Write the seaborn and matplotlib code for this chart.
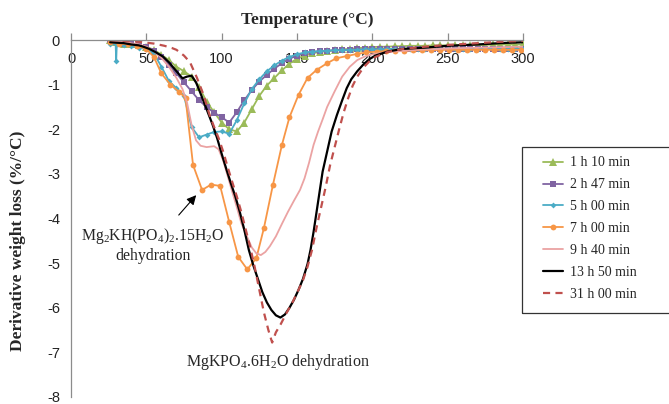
import matplotlib
matplotlib.use("Agg")
import matplotlib.pyplot as plt
import seaborn as sns
from matplotlib.patches import Rectangle

# ---------------- data ----------------
labels = ["1 h 10 min", "2 h 47 min", "5 h 00 min", "7 h 00 min",
          "9 h 40 min", "13 h 50 min", "31 h 00 min"]

t_5 = [26, 30, 35, 40, 45, 50, 55, 60, 65, 70, 75, 80, 85, 90, 95, 100, 105, 110,
       115, 120, 125, 130, 135, 140, 145, 150, 155, 160, 165, 170, 175, 180, 185,
       190, 195, 200, 205, 210, 215, 220, 225, 230, 235, 240, 245, 250, 255, 260,
       265, 270, 275, 280, 285, 290, 295, 300]

y_1h10 = [0.0, -0.05, -0.08, -0.1, -0.12, -0.15, -0.22, -0.33, -0.45, -0.6, -0.7,
          -0.82, -1.05, -1.38, -1.62, -1.85, -2.0, -2.05, -1.85, -1.55, -1.25,
          -1.02, -0.85, -0.68, -0.53, -0.42, -0.35, -0.3, -0.27, -0.25, -0.23,
          -0.21, -0.2, -0.18, -0.17, -0.16, -0.15, -0.15, -0.14, -0.14, -0.13,
          -0.13, -0.13, -0.12, -0.12, -0.12, -0.12, -0.11, -0.11, -0.11, -0.11,
          -0.1, -0.1, -0.1, -0.1, -0.1]

y_2h47 = [0.0, -0.05, -0.08, -0.1, -0.12, -0.16, -0.25, -0.38, -0.55, -0.75, -0.95,
          -1.15, -1.35, -1.5, -1.63, -1.73, -1.85, -1.62, -1.35, -1.12, -0.93,
          -0.78, -0.64, -0.52, -0.42, -0.35, -0.3, -0.27, -0.25, -0.24, -0.23,
          -0.22, -0.22, -0.21, -0.21, -0.2, -0.2, -0.2, -0.2, -0.2, -0.2, -0.2,
          -0.2, -0.2, -0.2, -0.2, -0.2, -0.2, -0.2, -0.2, -0.2, -0.2, -0.2,
          -0.2, -0.2, -0.2]

t_5h00 = [26, 29.6, 30, 30.4, 35, 40, 45, 50, 55, 60, 65, 70, 75, 80, 85, 90, 95,
          100, 105, 110, 115, 120, 125, 130, 135, 140, 145, 150, 155, 160, 165,
          170, 175, 180, 185, 190, 195, 200, 205, 210, 215, 220, 225, 230, 235,
          240, 245, 250, 255, 260, 265, 270, 275, 280, 285, 290, 295, 300]
y_5h00 = [-0.1, -0.08, -0.46, -0.1, -0.12, -0.14, -0.17, -0.2, -0.3, -0.6, -0.92,
          -1.08, -1.25, -1.95, -2.18, -2.12, -2.06, -2.05, -2.1, -1.8, -1.42, -1.1,
          -0.88, -0.7, -0.57, -0.46, -0.38, -0.32, -0.28, -0.26, -0.25, -0.24,
          -0.23, -0.23, -0.22, -0.22, -0.21, -0.21, -0.21, -0.2, -0.2, -0.2, -0.2,
          -0.2, -0.2, -0.2, -0.2, -0.2, -0.2, -0.2, -0.2, -0.2, -0.2, -0.2,
          -0.2, -0.2, -0.2, -0.2]

t_7h00 = [26, 32, 38, 44, 50, 55, 60, 66, 72, 76, 81, 87, 93, 99, 105, 111, 117,
          123, 128, 134, 140, 145, 151, 157, 163, 170, 176, 183, 190, 196, 203,
          209, 215, 221, 227, 233, 239, 245, 251, 257, 263, 269, 275, 281, 287,
          293, 299]
y_7h00 = [-0.05, -0.08, -0.1, -0.13, -0.2, -0.38, -0.75, -1.0, -1.17, -1.3, -2.8,
          -3.36, -3.24, -3.27, -4.08, -4.86, -5.14, -4.89, -4.22, -3.25, -2.35,
          -1.73, -1.23, -0.85, -0.67, -0.52, -0.41, -0.36, -0.31, -0.28, -0.26,
          -0.25, -0.24, -0.24, -0.23, -0.23, -0.23, -0.22, -0.22, -0.22, -0.22,
          -0.22, -0.22, -0.22, -0.22, -0.22, -0.22]

t_9h40 = [26, 35, 45, 50, 55, 60, 65, 70, 74, 77, 80, 83, 86, 90, 95, 98, 101,
          104, 107, 110, 113, 117, 120, 123, 126, 129, 132, 136, 140, 144, 148,
          152, 155, 158, 161, 164, 167, 170, 175, 180, 185, 190, 195, 200, 210,
          230, 260, 300]
y_9h40 = [0.0, -0.05, -0.1, -0.15, -0.25, -0.4, -0.6, -0.85, -1.1, -1.4, -1.9,
          -2.25, -2.37, -2.4, -2.38, -2.45, -2.7, -3.05, -3.4, -3.74, -4.1, -4.42,
          -4.65, -4.78, -4.82, -4.75, -4.62, -4.4, -4.12, -3.85, -3.6, -3.36,
          -3.1, -2.75, -2.35, -2.05, -1.78, -1.5, -1.15, -0.82, -0.6, -0.45,
          -0.37, -0.32, -0.27, -0.22, -0.18, -0.15]

t_13h50 = [26, 30, 35, 40, 45, 48, 52, 56, 61, 65, 70, 74, 77, 80, 83, 86, 90, 94,
           97, 100, 103, 106, 109, 112, 115, 118, 121, 124, 127, 130, 133, 136,
           139, 142, 145, 148, 151, 154, 157, 159, 161, 163, 165, 167, 170, 173,
           176.5, 180, 183, 186, 190, 194, 198, 202, 210, 220, 235, 250, 270, 285,
           300]
y_13h50 = [-0.05, -0.06, -0.07, -0.1, -0.12, -0.15, -0.2, -0.27, -0.37, -0.5, -0.7,
           -0.86, -0.82, -0.8, -0.95, -1.2, -1.55, -1.9, -2.2, -2.55, -2.88, -3.2,
           -3.5, -3.85, -4.25, -4.7, -5.05, -5.35, -5.65, -5.88, -6.05, -6.17,
           -6.22, -6.15, -6.0, -5.82, -5.6, -5.35, -5.02, -4.7, -4.3, -3.85, -3.4,
           -2.95, -2.5, -2.05, -1.68, -1.35, -1.08, -0.88, -0.7, -0.55, -0.43,
           -0.35, -0.26, -0.2, -0.17, -0.13, -0.1, -0.07, -0.05]

t_31h00 = [26, 35, 45, 55, 62, 67, 70, 75, 79, 83.5, 88, 92, 95, 98, 101, 104, 107,
           110, 113, 116, 119, 122, 125, 128, 131, 133.5, 136, 139, 143, 147, 151,
           154, 157, 160, 163, 166, 169, 172, 175, 178, 181, 184, 187, 190, 194,
           198, 202, 210, 220, 235, 250, 270, 285, 300]
y_31h00 = [0.0, -0.02, -0.04, -0.08, -0.13, -0.18, -0.22, -0.35, -0.5, -0.84, -1.23,
           -1.68, -1.95, -2.2, -2.5, -2.85, -3.18, -3.5, -3.85, -4.25, -4.65, -5.1,
           -5.6, -6.1, -6.5, -6.78, -6.55, -6.38, -6.12, -5.88, -5.6, -5.38, -5.08,
           -4.7, -4.2, -3.75, -3.3, -2.8, -2.4, -2.0, -1.62, -1.3, -1.02, -0.82,
           -0.62, -0.48, -0.38, -0.27, -0.2, -0.15, -0.11, -0.07, -0.04, -0.02]

x_ticks = [0, 50, 100, 150, 200, 250, 300]
y_ticks = [0, -1, -2, -3, -4, -5, -6, -7, -8]

# ---------------- style ----------------
sns.set_style("white")
plt.rcParams["font.family"] = ["Liberation Serif", "DejaVu Serif"]
plt.rcParams["mathtext.default"] = "regular"

fig = plt.figure(figsize=(6.69, 4.04), dpi=100)
ax = fig.add_axes([71 / 669, 7 / 404, 452 / 669, 357 / 404])

series = [
    (t_5, y_1h10, dict(color="#9BBB59", marker="^", markersize=6, linewidth=1.3)),
    (t_5, y_2h47, dict(color="#8064A2", marker="s", markersize=4.4, linewidth=1.3)),
    (t_5h00, y_5h00, dict(color="#4BACC6", marker="D", markersize=3.0, linewidth=1.3)),
    (t_7h00, y_7h00, dict(color="#F79646", marker="o", markersize=4.2, linewidth=1.3)),
    (t_9h40, y_9h40, dict(color="#EBA3A3", linewidth=1.3)),
    (t_13h50, y_13h50, dict(color="black", linewidth=1.6)),
    (t_31h00, y_31h00, dict(color="#C0504D", linewidth=1.6, linestyle=(0, (3.2, 2.4)))),
]
for (tx, ty, kw), lab in zip(series, labels):
    sns.lineplot(x=tx, y=ty, ax=ax, label=lab, markeredgewidth=0, sort=False, **kw)

ax.set_xlim(0, 300)
ax.set_ylim(-8, 0)
ax.set_xlabel("")
ax.set_ylabel("")
for s in ["right", "bottom"]:
    ax.spines[s].set_visible(False)
for s in ["top", "left"]:
    ax.spines[s].set_color("#8C8C8C")
    ax.spines[s].set_linewidth(0.9)

ax.xaxis.set_ticks_position("top")
ax.set_xticks(x_ticks)
ax.set_xticklabels([str(v) for v in x_ticks])
ax.set_yticks(y_ticks)
ax.set_yticklabels([str(v) for v in y_ticks])
ax.tick_params(axis="x", direction="out", length=5, width=0.9, color="#8C8C8C", pad=-24,
               labelfontfamily="Liberation Sans", labelsize=10.5, labelcolor="#222222")
ax.tick_params(axis="y", direction="out", length=5, width=0.9, color="#8C8C8C", pad=3,
               labelfontfamily="Liberation Sans", labelsize=10.5, labelcolor="#222222")

fig.text(307 / 669, 1 - 20 / 404, "Temperature (°C)", ha="center", va="center",
         fontsize=12.5, fontweight="bold")
fig.text(18 / 669, 1 - 241 / 404, "Derivative weight loss (%/°C)", rotation=90,
         ha="center", va="center", fontsize=12.5, fontweight="bold")

# annotations
ax.annotate("", xy=(84.3, -3.43), xytext=(70.3, -3.97),
            arrowprops=dict(arrowstyle="-|>", color="black", lw=0.8, mutation_scale=14))
ax.text(54.4, -4.39, r"Mg$_2$KH(PO$_4$)$_2$.15H$_2$O", ha="center", va="center", fontsize=11.3)
ax.text(54.4, -4.84, "dehydration", ha="center", va="center", fontsize=11.3)
ax.text(137.4, -7.22, r"MgKPO$_4$.6H$_2$O dehydration", ha="center", va="center", fontsize=11.5)

# legend
fig.add_artist(Rectangle((522 / 669, 1 - 313 / 404), 0.3, 166 / 404, transform=fig.transFigure,
                         fill=False, edgecolor="#333333", linewidth=0.9))
handles, labs = ax.get_legend_handles_labels()
ax.legend(handles, labs, loc="upper left", bbox_to_anchor=(543 / 669, 1 - 156.5 / 404),
          bbox_transform=fig.transFigure, frameon=False, fontsize=10, handlelength=1.45,
          handletextpad=0.5, labelspacing=0.64, borderpad=0, borderaxespad=0)

fig.savefig("out.png", dpi=100)
